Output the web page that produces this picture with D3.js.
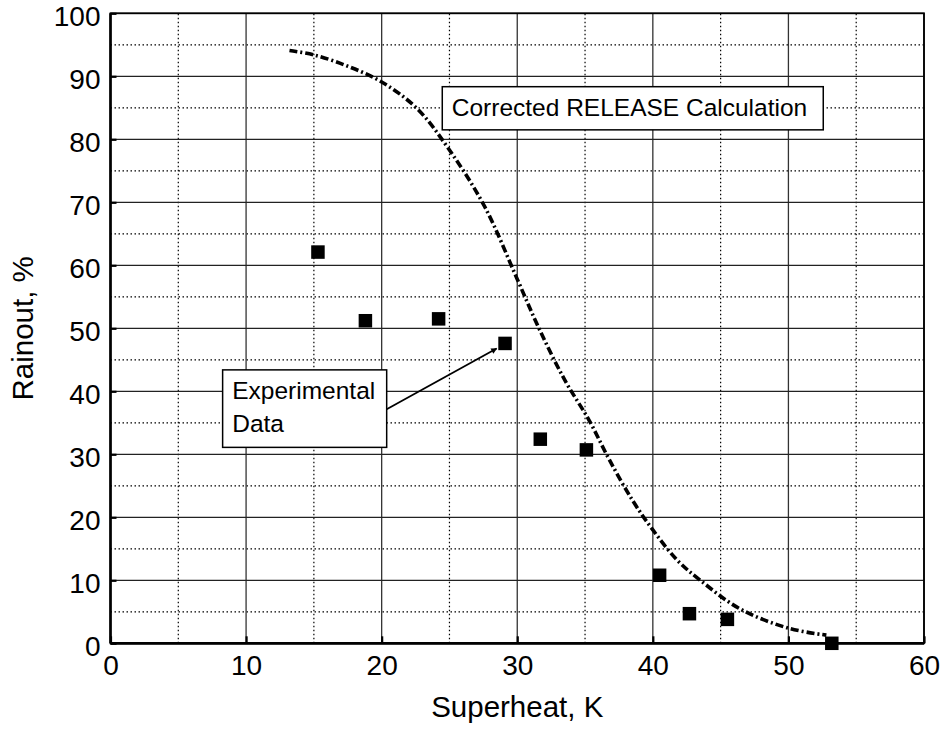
<!DOCTYPE html>
<html><head><meta charset="utf-8">
<script src="https://cdn.jsdelivr.net/npm/d3@7"></script>
<style>body{margin:0;background:#fff}svg{display:block}text{font-family:"Liberation Sans",Arial,sans-serif;fill:#000}</style>
</head><body><svg id="c" width="943" height="730"></svg>
<script>
// Experimental data (superheat K, rainout %)
const expX = [15.3, 18.8, 24.2, 29.1, 31.7, 35.1, 40.5, 42.7, 45.5, 53.2];
const expY = [62.1, 51.2, 51.5, 47.6, 32.4, 30.7, 10.8, 4.7, 3.8, 0];
// Corrected RELEASE calculation curve
const calcX = [13.2, 15.0, 17.5, 20.0, 22.6, 25.0, 27.6, 30.0, 31.6, 33.5, 35.3, 36.8, 38.5, 40.0, 41.8, 43.5, 46.4, 50.0, 52.8];
const calcY = [94.1, 93.4, 91.6, 89.1, 84.9, 78.3, 69.3, 57.8, 50.0, 41.8, 35.4, 29.1, 22.7, 18.0, 13.2, 10.0, 5.5, 2.4, 1.3];
const xTicks = [0, 10, 20, 30, 40, 50, 60];
const yTicks = [0, 10, 20, 30, 40, 50, 60, 70, 80, 90, 100];
const xMinor = [5, 15, 25, 35, 45, 55];
const yMinor = [5, 15, 25, 35, 45, 55, 65, 75, 85, 95];
const xTitle = "Superheat, K";
const yTitle = "Rainout, %";
const calcLabel = "Corrected RELEASE Calculation";
const expLabel = ["Experimental", "Data"];

const svg = d3.select("#c");
const x = d3.scaleLinear().domain([0, 60]).range([110.5, 924]);
const y = d3.scaleLinear().domain([0, 100]).range([643.3, 13.3]);
const g = svg.append("g");

// minor dotted grid
g.selectAll(".mx").data(xMinor).join("line")
  .attr("x1", d => x(d)).attr("x2", d => x(d)).attr("y1", y(0)).attr("y2", y(100))
  .attr("stroke", "#000").attr("stroke-width", 1.2).attr("stroke-dasharray", "1.5,2.5");
g.selectAll(".my").data(yMinor).join("line")
  .attr("x1", x(0)).attr("x2", x(60)).attr("y1", d => y(d)).attr("y2", d => y(d))
  .attr("stroke", "#000").attr("stroke-width", 1.2).attr("stroke-dasharray", "1.5,2.5");
// major grid
g.selectAll(".gx").data(xTicks).join("line")
  .attr("x1", d => x(d)).attr("x2", d => x(d)).attr("y1", y(0)).attr("y2", y(100))
  .attr("stroke", "#333").attr("stroke-width", 1.3);
g.selectAll(".gy").data(yTicks).join("line")
  .attr("x1", x(0)).attr("x2", x(60)).attr("y1", d => y(d)).attr("y2", d => y(d))
  .attr("stroke", "#222").attr("stroke-width", 1.3);

// frame
svg.append("rect").attr("x", x(0)).attr("y", y(100)).attr("width", x(60) - x(0)).attr("height", y(0) - y(100))
  .attr("fill", "none").attr("stroke", "#000").attr("stroke-width", 1.8);
svg.append("line").attr("x1", x(0)).attr("x2", x(0)).attr("y1", y(100)).attr("y2", y(0)).attr("stroke", "#000").attr("stroke-width", 2.5);
svg.append("line").attr("x1", x(0)).attr("x2", x(60)).attr("y1", y(0)).attr("y2", y(0)).attr("stroke", "#000").attr("stroke-width", 2.8);

// axes
const xAxis = d3.axisBottom(x).tickValues(xTicks).tickSize(-7).tickPadding(12).tickFormat(d3.format("d"));
const yAxis = d3.axisLeft(y).tickValues(yTicks).tickSize(-6).tickPadding(10).tickFormat(d3.format("d"));
const ax = svg.append("g").attr("transform", `translate(0,${y(0)})`).call(xAxis);
const ay = svg.append("g").attr("transform", `translate(${x(0)},0)`).call(yAxis);
[ax, ay].forEach(a => {
  a.select(".domain").remove();
  a.selectAll(".tick line").attr("stroke", "#000").attr("stroke-width", 2.2);
  a.selectAll(".tick text").attr("font-size", 28).attr("font-family", "Liberation Sans, Arial, sans-serif");
});
ax.selectAll(".tick text").attr("dy", "0.71em");
ay.selectAll(".tick text").attr("dy", "0.45em");

// titles
svg.append("text").attr("x", (x(0) + x(60)) / 2).attr("y", 716.5).attr("text-anchor", "middle")
  .attr("font-size", 29.5).text(xTitle);
svg.append("text").attr("transform", `translate(33,${(y(0) + y(100)) / 2}) rotate(-90)`).attr("text-anchor", "middle")
  .attr("font-size", 29.5).text(yTitle);

// calculation curve
const line = d3.line().x(d => x(d[0])).y(d => y(d[1])).curve(d3.curveCatmullRom.alpha(0.5));
svg.append("path").datum(calcX.map((v, i) => [v, calcY[i]])).attr("d", line)
  .attr("fill", "none").attr("stroke", "#000").attr("stroke-width", 3.6).attr("stroke-dasharray", "8,3,2,3");

// experimental points
const sq = 13.5;
svg.selectAll(".pt").data(expX.map((v, i) => [v, expY[i]])).join("rect")
  .attr("x", d => x(d[0]) - sq / 2).attr("y", d => y(d[1]) - sq / 2).attr("width", sq).attr("height", sq).attr("fill", "#000");

// annotations
const calcBox = {x0: 24.47, x1: 52.57, y0: 88.35, y1: 81.5};
svg.append("rect").attr("x", x(calcBox.x0)).attr("y", y(calcBox.y0)).attr("width", x(calcBox.x1) - x(calcBox.x0)).attr("height", y(calcBox.y1) - y(calcBox.y0))
  .attr("fill", "#fff").attr("stroke", "#000").attr("stroke-width", 1.5);
svg.append("text").attr("x", x(calcBox.x0) + 9.5).attr("y", y(calcBox.y0) + 29).attr("font-size", 24.5).text(calcLabel);

const expBox = {x0: 8.27, x1: 20.37, y0: 43.4, y1: 31.1};
const arrow = {x0: 20.37, y0: 37.14, x1: 28.48, y1: 46.8};
svg.append("defs").append("marker").attr("id", "ah").attr("viewBox", "0 0 10 10").attr("refX", 9).attr("refY", 5)
  .attr("markerWidth", 7).attr("markerHeight", 6).attr("markerUnits", "userSpaceOnUse").attr("orient", "auto")
  .append("path").attr("d", "M0,0 L10,5 L0,10 z").attr("fill", "#000");
svg.append("line").attr("x1", x(arrow.x0)).attr("y1", y(arrow.y0)).attr("x2", x(arrow.x1)).attr("y2", y(arrow.y1))
  .attr("stroke", "#000").attr("stroke-width", 1.8).attr("marker-end", "url(#ah)");
svg.append("rect").attr("x", x(expBox.x0)).attr("y", y(expBox.y0)).attr("width", x(expBox.x1) - x(expBox.x0)).attr("height", y(expBox.y1) - y(expBox.y0))
  .attr("fill", "#fff").attr("stroke", "#000").attr("stroke-width", 1.5);
svg.append("text").attr("x", x(expBox.x0) + 9.6).attr("y", y(expBox.y0) + 29.5).attr("font-size", 24.5).text(expLabel[0]);
svg.append("text").attr("x", x(expBox.x0) + 9.6).attr("y", y(expBox.y0) + 62).attr("font-size", 24.5).text(expLabel[1]);
</script></body></html>
